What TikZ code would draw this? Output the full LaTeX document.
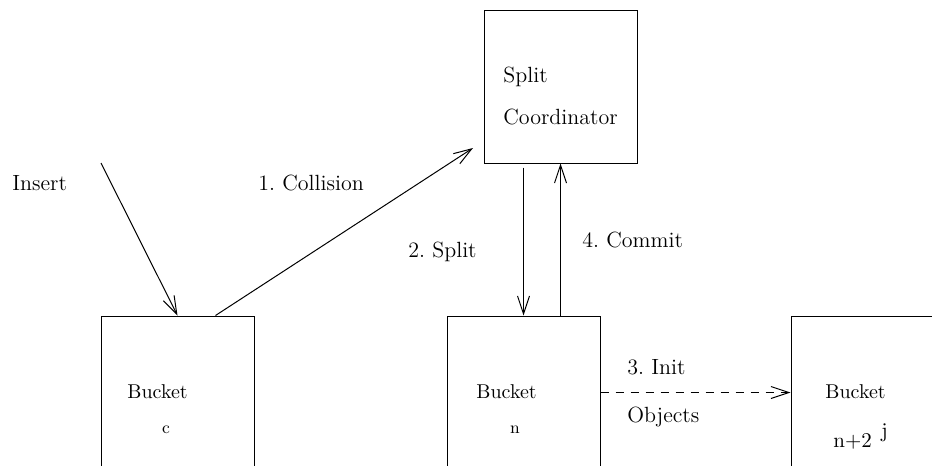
\documentclass[tikz,border=0pt]{standalone}
\usetikzlibrary{arrows.meta,calc}
\frenchspacing

\tikzset{
  bucketbox/.style={draw,line width=0.5pt,minimum width=76.5pt,minimum height=76.5pt,inner sep=0pt},
  lbl/.style={anchor=base west,inner sep=0pt,font=\fontsize{11}{13}\selectfont},
  inbox/.style={anchor=base west,inner sep=0pt,font=\fontsize{10}{12}\selectfont},
  idx/.style={anchor=base,inner sep=0pt,font=\fontsize{8.5}{10}\selectfont},
  msg/.style={line width=0.5pt,-{Straight Barb[length=9pt,width=6pt]}}
}

\begin{document}
\begin{tikzpicture}[x=0.5pt,y=-0.5pt]
  \useasboundingbox (0,0) rectangle (932,466);

  % coordinator and the three buckets
  \node[bucketbox] (sc) at (560.5,86.5) {};
  \node[bucketbox] (bc) at (177.5,392.5) {};
  \node[bucketbox] (bn) at (523.5,392.5) {};
  \node[bucketbox] (bj) at (867.5,392.5) {};

  \node[lbl] (scA) at (503,83) {Split};
  \node[lbl] (scB) at (503,124) {Coordinator};
  \node[inbox] (bcA) at (127,398) {Bucket};
  \node[idx] (bcB) at (166,433) {c};
  \node[inbox] (bnA) at (476,398) {Bucket};
  \node[idx] (bnB) at (515,433) {n};
  \node[inbox] (bjA) at (825,398) {Bucket};
  \node[inbox,font=\fontsize{10.5}{13}\selectfont] (bjB) at (833,447) {n+2};
  \node[inbox,font=\fontsize{10.5}{13}\selectfont] (bjC) at (881,437) {j};

  % messages
  \coordinate (ins) at (101,163);
  \coordinate (coll) at (473,148);
  \draw[msg] (ins) -- (bc.north);
  \draw[msg] ([xshift=19pt]bc.north) -- (coll);
  \draw[msg] ([yshift=-2pt]sc.south -| bn.north) -- (bn.north);
  \draw[msg] (bn.north -| sc.south) -- (sc.south);
  \draw[msg,dash pattern=on 4pt off 3.5pt] (bn.east) -- (bj.west);

  \node[lbl] (tIns) at (12,190) {Insert};
  \node[lbl] (tColl) at (258,190) {1. Collision};
  \node[lbl] (tSplit) at (408,257) {2. Split};
  \node[lbl] (tCommit) at (582,247) {4. Commit};
  \node[lbl] (tInit) at (627,374) {3. Init};
  \node[lbl] (tObj) at (627,422) {Objects};
\end{tikzpicture}
\end{document}
